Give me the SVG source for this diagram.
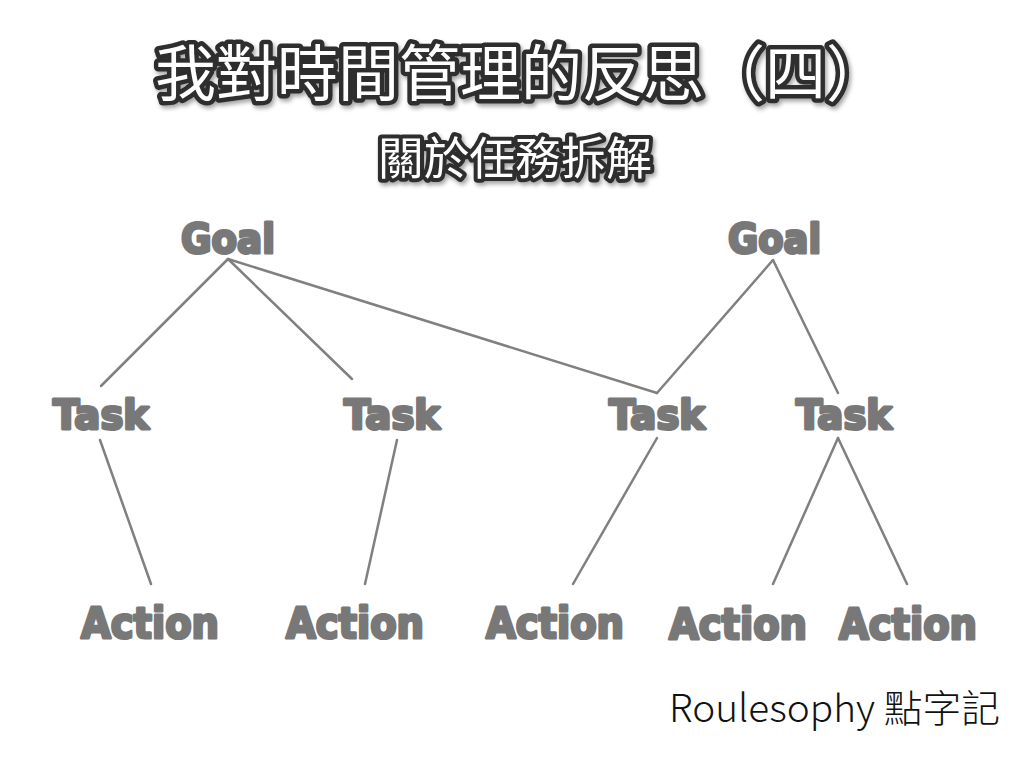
<svg xmlns="http://www.w3.org/2000/svg" width="1024" height="768" viewBox="0 0 1024 768">
  <defs>
    <filter id="sh" x="-10%" y="-30%" width="120%" height="160%">
      <feDropShadow dx="2" dy="3" stdDeviation="2" flood-color="#000" flood-opacity="0.35"/>
    </filter>
  </defs>
  <style>
    .title { font-family: "Noto Sans CJK TC", "Noto Sans CJK SC", sans-serif; fill: #ffffff; stroke: #2e2e2e; stroke-linejoin: round; paint-order: stroke; }
    .lbl { font-family: "DejaVu Sans", "Liberation Sans", sans-serif; font-weight: bold; fill: #787878; stroke: #787878; stroke-width: 3; stroke-linejoin: round; text-anchor: start; }
    .edge { stroke: #808080; stroke-width: 2.5; fill: none; stroke-linecap: round; }
    .foot { font-family: "Noto Sans CJK TC", "Noto Sans CJK SC", sans-serif; font-weight: 300; fill: #111; }
  </style>
  <rect width="1024" height="768" fill="#ffffff"/>

  <g id="title" filter="url(#sh)">
    <text class="title" x="155" y="96" font-size="61" stroke-width="9" textLength="732" lengthAdjust="spacingAndGlyphs">我對時間管理的反思（四）</text>
    <text class="title" x="378" y="175" font-size="45" stroke-width="8" textLength="274" lengthAdjust="spacingAndGlyphs">關於任務拆解</text>
  </g>

  <g id="connectors">
    <line class="edge" x1="228" y1="259" x2="101" y2="386"/>
    <line class="edge" x1="228" y1="259" x2="352" y2="379"/>
    <line class="edge" x1="228" y1="259" x2="657" y2="393"/>
    <line class="edge" x1="773" y1="260" x2="657" y2="393"/>
    <line class="edge" x1="773" y1="260" x2="838" y2="393"/>
    <line class="edge" x1="100" y1="440" x2="151" y2="584"/>
    <line class="edge" x1="397" y1="440" x2="365" y2="584"/>
    <line class="edge" x1="657" y1="438" x2="573" y2="584"/>
    <line class="edge" x1="838" y1="438" x2="773" y2="584"/>
    <line class="edge" x1="838" y1="438" x2="907" y2="584"/>
  </g>

  <g id="goal1"><text class="lbl" x="181" y="253" font-size="40" textLength="94" lengthAdjust="spacingAndGlyphs">Goal</text></g>
  <g id="goal2"><text class="lbl" x="728" y="253" font-size="40" textLength="93" lengthAdjust="spacingAndGlyphs">Goal</text></g>

  <g id="task1"><text class="lbl" x="53" y="429" font-size="40" textLength="96" lengthAdjust="spacingAndGlyphs">Task</text></g>
  <g id="task2"><text class="lbl" x="344" y="429" font-size="40" textLength="96" lengthAdjust="spacingAndGlyphs">Task</text></g>
  <g id="task3"><text class="lbl" x="609" y="429" font-size="40" textLength="96" lengthAdjust="spacingAndGlyphs">Task</text></g>
  <g id="task4"><text class="lbl" x="796" y="429" font-size="40" textLength="96" lengthAdjust="spacingAndGlyphs">Task</text></g>

  <g id="action1"><text class="lbl" x="81" y="638" font-size="42" textLength="138" lengthAdjust="spacingAndGlyphs">Action</text></g>
  <g id="action2"><text class="lbl" x="286" y="638" font-size="42" textLength="138" lengthAdjust="spacingAndGlyphs">Action</text></g>
  <g id="action3"><text class="lbl" x="486" y="638" font-size="42" textLength="138" lengthAdjust="spacingAndGlyphs">Action</text></g>
  <g id="action4"><text class="lbl" x="669" y="639" font-size="42" textLength="138" lengthAdjust="spacingAndGlyphs">Action</text></g>
  <g id="action5"><text class="lbl" x="839" y="639" font-size="42" textLength="138" lengthAdjust="spacingAndGlyphs">Action</text></g>

  <g id="footer"><text class="foot" x="669" y="722" font-size="38" textLength="331" lengthAdjust="spacingAndGlyphs">Roulesophy 點字記</text></g>
</svg>
